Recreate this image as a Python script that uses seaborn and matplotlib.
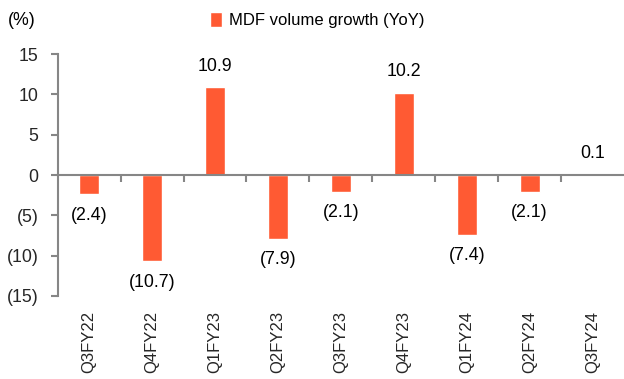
import matplotlib
matplotlib.use("Agg")
import matplotlib.pyplot as plt
import seaborn as sns
import pandas as pd

# ------------------------------
# Data
# ------------------------------
quarters = ["Q3FY22", "Q4FY22", "Q1FY23", "Q2FY23", "Q3FY23",
            "Q4FY23", "Q1FY24", "Q2FY24", "Q3FY24"]
growth = [-2.4, -10.7, 10.9, -7.9, -2.1, 10.2, -7.4, -2.1, 0.1]
series_name = "MDF volume growth (YoY)"
y_ticks = [15, 10, 5, 0, -5, -10, -15]

df = pd.DataFrame({"Quarter": quarters, "Growth": growth, "Series": series_name})

sns.set_style("white")
plt.rcParams["font.family"] = ["Liberation Sans", "DejaVu Sans"]
plt.rcParams["text.color"] = "black"

bar_color = "#FF5A33"
axis_grey = "#868686"
fs = 12.8

fig = plt.figure(figsize=(6.24, 3.79), dpi=100)
ax = fig.add_axes([0.0925, 0.219, 0.9075, 0.6385])

sns.barplot(data=df, x="Quarter", y="Growth", hue="Series",
            palette=[bar_color], saturation=1, width=0.32, ax=ax, legend=True)

ax.set_ylim(-15, 15)
ax.set_xlim(-0.5, len(quarters) - 0.5)
ax.set_yticks(y_ticks)
ax.set_yticklabels([f"({abs(v)})" if v < 0 else str(v) for v in y_ticks], fontsize=fs)
ax.set_xlabel("")
ax.set_ylabel("")

# spines: left grey, bottom moved to zero line
for s in ["top", "right"]:
    ax.spines[s].set_visible(False)
ax.spines["left"].set_color(axis_grey)
ax.spines["left"].set_linewidth(1.5)
ax.spines["bottom"].set_position(("data", 0))
ax.spines["bottom"].set_color(axis_grey)
ax.spines["bottom"].set_linewidth(1.5)

ax.tick_params(axis="y", direction="out", length=5, width=1.5, color=axis_grey, pad=9, left=True)
# tick marks between categories on the zero line
ax.set_xticks([i + 0.5 for i in range(len(quarters) - 1)], minor=True)
ax.tick_params(axis="x", which="minor", direction="out", length=5, width=1.5, color=axis_grey, bottom=True)
ax.tick_params(axis="x", which="major", length=0, labelbottom=False)

# category labels at the bottom of the plot area
sec = ax.secondary_xaxis("bottom")
sec.set_xticks(range(len(quarters)), labels=quarters, rotation=90, fontsize=12)
sec.tick_params(length=0, pad=11)
sec.spines["bottom"].set_visible(False)

# data labels
labels = [f"({abs(v):.1f})" if v < 0 else f"{v:.1f}" for v in growth]
for cont in ax.containers:
    ax.bar_label(cont, labels=labels, padding=9, fontsize=fs)

# legend on top
handles, lbls = ax.get_legend_handles_labels()
ax.legend(handles, lbls, loc="center", bbox_to_anchor=(0.508, 0.948),
          bbox_transform=fig.transFigure, frameon=False, fontsize=12,
          handlelength=0.75, handleheight=1.0, handletextpad=0.4)

fig.text(0.013, 0.945, "(%)", fontsize=fs, va="center", ha="left")

fig.savefig("out.png", dpi=100)
plt.close(fig)
